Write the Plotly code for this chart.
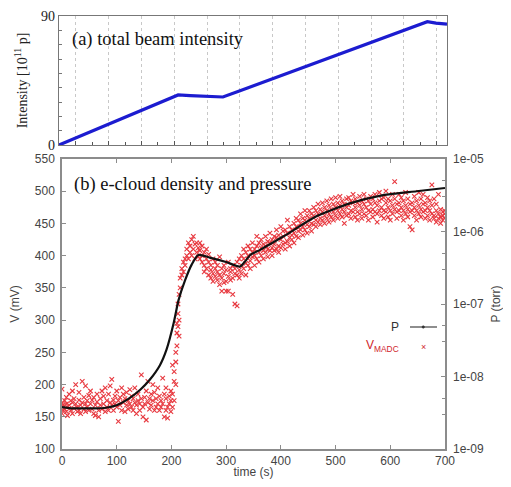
import plotly.graph_objects as go

# ---------------- data ----------------
# (a) total beam intensity [1e11 p] vs time (s)
beam_t = [0, 30, 60, 90, 120, 150, 180, 205, 218, 240, 270, 300, 330, 360, 400, 450, 500, 550, 600, 640, 674, 690, 710]
beam_i = [0, 4.8, 9.6, 14.5, 19.5, 24.2, 29, 33, 34.9, 34.4, 34, 33.5, 37.6, 41.8, 47.5, 54.8, 61.8, 68.8, 75.6, 81.2, 86, 85, 84.3]

# (b) pressure P (torr) vs time (s)
p_t = [0, 20, 40, 60, 80, 100, 120, 143, 160, 179, 191, 204, 213, 225, 237, 249, 270, 300, 325, 335, 344, 362, 405, 465, 526, 587, 648, 700]
p_val = [3.78e-9, 3.63e-9, 3.63e-9, 3.63e-9, 3.71e-9, 4.02e-9, 4.83e-9, 6.57e-9, 8.94e-9, 1.43e-8, 2.34e-8,
         5.41e-8, 1.13e-7, 2.13e-7, 3.49e-7, 4.74e-7, 4.37e-7, 3.79e-7, 3.28e-7, 3.9e-7, 4.74e-7, 5.58e-7,
         8.58e-7, 1.62e-6, 2.44e-6, 3.18e-6, 3.59e-6, 3.98e-6]

# (b) V_MADC (mV) scatter: time -> list of readings
v_groups = [
    (0, [193, 165, 155, 172]), (2, [168, 160]), (5, [175, 162]), (8, [158, 170, 180]), (10, [165, 152]),
    (13, [185, 168]), (16, [160, 175]), (19, [172, 155, 190]), (22, [178, 163]), (25, [200, 170]),
    (28, [165, 158]), (31, [188, 176, 160]), (34, [168, 155]), (37, [205, 172]), (40, [162, 180]),
    (43, [198, 170, 158]), (46, [175, 165]), (49, [183, 160]), (52, [170, 190]), (55, [162, 176]),
    (58, [180, 155]), (61, [168, 152]), (64, [173, 185]), (67, [160, 150]), (70, [178, 168]),
    (73, [190, 162]), (76, [170, 182]), (79, [158, 195]), (82, [175, 165]), (85, [185, 160]),
    (88, [172, 198]), (91, [208, 168]), (94, [176, 160]), (97, [182, 170]), (100, [165, 190]),
    (103, [143, 175]), (106, [180, 168]), (109, [195, 160]), (112, [172, 185]), (115, [158, 178]),
    (118, [168, 188]), (121, [175, 162]), (124, [192, 170]), (127, [165, 182]), (130, [178, 160]),
    (133, [172, 195]), (136, [168, 155]), (139, [185, 175]), (142, [160, 170]), (145, [215, 178]),
    (148, [165, 150]), (151, [180, 170]), (154, [145, 190]), (157, [205, 172]), (160, [162, 178]),
    (163, [185, 168]), (166, [175, 200]), (169, [160, 188]), (172, [178, 165]), (175, [170, 195]),
    (178, [182, 160]), (181, [165, 175]), (184, [210, 170]), (187, [150, 185]), (190, [160, 178, 195]),
    (193, [148, 165]), (196, [170, 182]), (199, [158, 175, 190]), (202, [185, 165, 230]),
    (205, [205, 175, 220]), (208, [235, 250, 200]), (210, [260, 280, 295]), (212, [310, 325, 290]),
    (214, [275, 300, 340]),
    (216, [350, 365]), (219, [370, 380]), (222, [375, 390]), (225, [395, 385]), (228, [410, 400]),
    (231, [420, 395]), (234, [405, 415]), (237, [425, 400]), (240, [410, 430]), (243, [395, 418]),
    (246, [405, 420]), (249, [412, 398]),
    (252, [408, 420, 395]), (256, [400, 390, 415]), (260, [385, 405, 375]), (264, [395, 380, 410]),
    (268, [370, 390, 402]), (272, [385, 365, 378]), (276, [395, 372, 360]), (280, [380, 368, 390]),
    (284, [362, 385, 375]), (288, [398, 370, 355]), (292, [380, 365, 345]), (296, [372, 385, 358]),
    (300, [360, 378, 345]), (304, [390, 368, 345]), (308, [375, 362, 380]), (312, [385, 365, 340]),
    (316, [372, 380, 325]), (320, [390, 370, 322]), (324, [378, 395, 365]), (328, [385, 372, 400]),
    (332, [395, 380, 410]), (336, [388, 405, 370]), (340, [400, 385, 415]), (344, [410, 392, 380]),
    (348, [398, 420, 405]), (352, [385, 410, 400]), (356, [415, 395, 430]), (360, [405, 420, 390]),
    (364, [412, 400, 425]), (368, [395, 418, 408]), (372, [430, 405, 415]), (376, [410, 398, 422]),
    (380, [420, 408, 435]), (384, [412, 425, 400]), (388, [418, 430, 408]), (392, [428, 410, 440]),
    (396, [415, 432, 405]), (400, [425, 412, 445]), (404, [430, 418, 438]), (408, [420, 440, 410]),
    (412, [435, 422, 455]), (416, [428, 445, 415]), (420, [440, 425, 432]),
    (424, [435, 450, 420]), (428, [445, 430, 458]), (432, [438, 455, 428]), (436, [450, 440, 465]),
    (440, [445, 432, 458]), (444, [455, 440, 470]), (448, [448, 462, 435]), (452, [458, 445, 470]),
    (456, [450, 465, 438]), (460, [462, 448, 475]), (464, [455, 470, 445]), (468, [465, 452, 480]),
    (472, [458, 472, 448]), (476, [468, 455, 482]), (480, [462, 475, 450]), (484, [470, 458, 485]),
    (488, [465, 478, 452]), (492, [472, 460, 488]), (496, [468, 480, 455]), (500, [475, 462, 490]),
    (504, [470, 482, 458]), (508, [478, 465, 492]), (512, [472, 485, 460]), (516, [480, 468, 450]),
    (520, [475, 488, 462]),
    (524, [478, 465, 490]), (528, [470, 485, 458]), (532, [482, 468, 495]), (536, [475, 460, 488]),
    (540, [468, 482, 455]), (544, [478, 492, 465]), (548, [472, 458, 485]), (552, [465, 480, 495]),
    (556, [475, 462, 488]), (560, [470, 485, 455]), (564, [480, 468, 492]), (568, [472, 488, 460]),
    (572, [468, 482, 495]), (576, [478, 465, 452]), (580, [485, 470, 498]), (584, [475, 462, 488]),
    (588, [470, 490, 458]), (592, [482, 468, 500]), (596, [475, 460, 488]), (600, [470, 485, 455]),
    (604, [478, 465, 495]), (608, [472, 488, 515]), (612, [468, 480, 458]), (616, [482, 470, 495]),
    (620, [475, 462, 490]), (624, [470, 485, 455]), (628, [478, 465, 498]), (632, [472, 488, 460]),
    (636, [468, 480, 445]), (640, [482, 470, 440]), (644, [475, 462, 492]), (648, [470, 485, 455]),
    (652, [478, 465, 498]), (656, [472, 488, 460]), (660, [468, 480, 495]), (664, [482, 470, 458]),
    (668, [475, 462, 490]), (672, [470, 485, 455]), (676, [478, 465, 510]), (680, [462, 488, 458]),
    (684, [470, 480, 452]), (688, [465, 458, 495]), (692, [460, 472, 450]), (696, [455, 468, 462]),
    (699, [458, 470, 465]),
]
v_t = [t for t, vs in v_groups for _ in vs]
v_mv = [v for _, vs in v_groups for v in vs]

# ---------------- figure ----------------
# the page body has an 8 px margin, so the figure is 16 px smaller and positions are offset by 8 px
OFF = 8
W, H = 511 - 2 * OFF, 487 - 2 * OFF
def px(x): return (x - OFF) / W
def py(y): return (H - (y - OFF)) / H

SERIF = "Liberation Serif"
SANS = "Liberation Sans"
AXC = "#8c8c8c"

fig = go.Figure()

fig.add_trace(go.Scatter(x=beam_t, y=beam_i, mode="lines", xaxis="x", yaxis="y",
                         line=dict(color="#1c1cd0", width=3.2), showlegend=False))

fig.add_trace(go.Scatter(x=v_t, y=v_mv, mode="markers", xaxis="x2", yaxis="y2",
                         marker=dict(symbol="x-thin", size=4.5, line=dict(color="#e4161e", width=1.1)),
                         opacity=0.85, showlegend=False))

fig.add_trace(go.Scatter(x=p_t, y=p_val, mode="lines", xaxis="x2", yaxis="y3",
                         line=dict(color="#111111", width=2.2, shape="spline", smoothing=0.6),
                         showlegend=False))

fig.update_layout(
    width=W, height=H, margin=dict(l=0, r=0, t=0, b=0),
    paper_bgcolor="white", plot_bgcolor="white",
    xaxis=dict(domain=[px(59), px(447)], anchor="y", range=[0, 710], automargin=False,
               showticklabels=False, tick0=31, dtick=60, ticks="inside", ticklen=4,
               tickcolor="#555", showgrid=True, gridcolor="#c8c8c8", griddash="dot", gridwidth=1,
               minor=dict(tick0=1, dtick=30, ticks="inside", ticklen=3, tickcolor="#555", showgrid=False),
               showline=True, linecolor="#777", linewidth=1.2, mirror=True, zeroline=False),
    yaxis=dict(domain=[py(145), py(16)], anchor="x", range=[0, 90], automargin=False,
               tickvals=[0, 90], ticktext=["0", "90"], ticks="inside", ticklen=4, tickcolor="#555",
               minor=dict(dtick=10, ticks="inside", ticklen=3, tickcolor="#777", showgrid=False),
               tickfont=dict(family=SERIF, size=14, color="#222"), showgrid=False,
               showline=True, linecolor="#777", linewidth=1.2, mirror=True, zeroline=False,
               title=dict(text="Intensity [10<sup>11</sup> p]", font=dict(family=SERIF, size=14, color="#222"),
                          standoff=10)),
    xaxis2=dict(domain=[px(62), px(445)], anchor="y2", range=[0, 700], automargin=False,
                dtick=100, ticks="inside", ticklen=4, tickcolor=AXC, showgrid=False, zeroline=False,
                tickfont=dict(family=SANS, size=12, color="#444"),
                showline=True, linecolor=AXC, linewidth=1.5, mirror="ticks",
                title=dict(text="time (s)", font=dict(family=SANS, size=12, color="#444"), standoff=13)),
    yaxis2=dict(domain=[py(449), py(159)], anchor="x2", range=[100, 550], automargin=False,
                dtick=50, ticks="inside", ticklen=4, tickcolor=AXC, showgrid=False, zeroline=False,
                tickfont=dict(family=SANS, size=12, color="#444"), ticklabelstandoff=3,
                showline=True, linecolor=AXC, linewidth=1.5, mirror=True,
                title=dict(text="V (mV)", font=dict(family=SANS, size=12, color="#444"), standoff=17)),
    yaxis3=dict(overlaying="y2", side="right", anchor="x2", type="log", range=[-9, -5], automargin=False,
                tickvals=[1e-9, 1e-8, 1e-7, 1e-6, 1e-5],
                ticktext=["1e-09", "1e-08", "1e-07", "1e-06", "1e-05"],
                ticks="inside", ticklen=4, tickcolor=AXC, showgrid=False, zeroline=False,
                minor=dict(tickvals=[3e-9, 5e-9, 3e-8, 5e-8, 3e-7, 5e-7, 3e-6, 5e-6],
                           ticks="inside", ticklen=3, tickcolor=AXC, showgrid=False),
                tickfont=dict(family=SANS, size=12, color="#444"), ticklabelstandoff=7, showline=False,
                title=dict(text="P (torr)", font=dict(family=SANS, size=12, color="#444"), standoff=22)),
    showlegend=False,
)

annotations = [
    dict(text="(a) total beam intensity", x=px(70), y=py(40), xref="paper", yref="paper",
         xanchor="left", yanchor="middle", showarrow=False,
         font=dict(family=SERIF, size=18.5, color="#111")),
    dict(text="(b) e-cloud density and pressure", x=px(72), y=py(184), xref="paper", yref="paper",
         xanchor="left", yanchor="middle", showarrow=False,
         font=dict(family=SERIF, size=18.5, color="#111")),
    dict(text="P", x=px(401), y=py(327), xref="paper", yref="paper", xanchor="right", yanchor="middle",
         showarrow=False, font=dict(family=SANS, size=12, color="#333")),
    dict(text="V<sub>MADC</sub>", x=px(401), y=py(346), xref="paper", yref="paper", xanchor="right",
         yanchor="middle", showarrow=False, font=dict(family=SANS, size=12, color="#d0242c")),
    dict(text="×", x=px(423), y=py(347), xref="paper", yref="paper", xanchor="center",
         yanchor="middle", showarrow=False, font=dict(family=SANS, size=9, color="#d0242c")),
]
fig.update_layout(annotations=annotations)

fig.add_shape(type="line", xref="paper", yref="paper", x0=px(410), x1=px(437), y0=py(327), y1=py(327),
              line=dict(color="#444", width=1.2))
fig.add_shape(type="circle", xref="paper", yref="paper", x0=px(422), x1=px(424.5), y0=py(328.2), y1=py(325.8),
              line=dict(color="#333", width=0.5), fillcolor="#333")

fig.write_html("out.html")
